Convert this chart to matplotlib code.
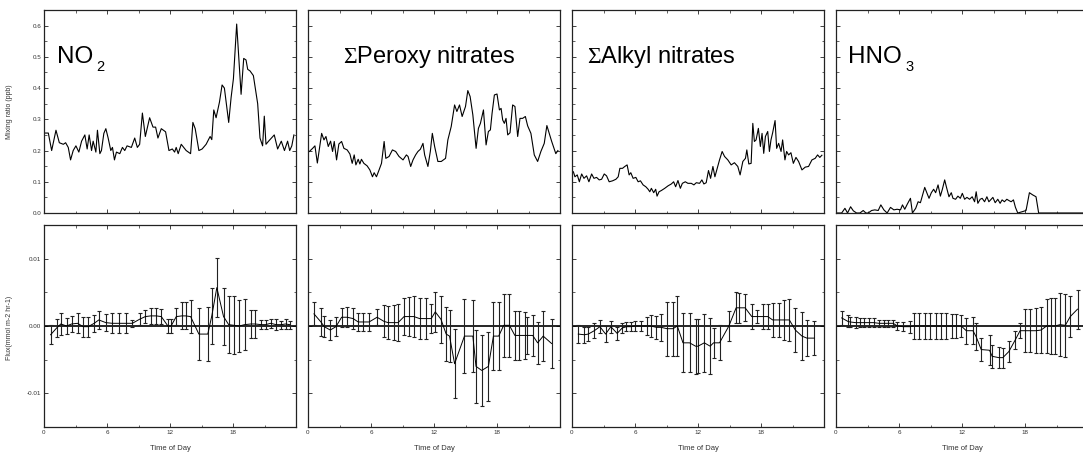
import numpy as np
import matplotlib.pyplot as plt
from matplotlib.ticker import MultipleLocator, FixedLocator

plt.rcParams['font.family'] = ['Liberation Sans', 'DejaVu Sans']
plt.rcParams['mathtext.fontset'] = 'custom'
plt.rcParams['mathtext.rm'] = 'Liberation Serif'

# ─────────────────────────────────────────────
# 1. DATOS: razón de mezcla (ppb) vs hora
# ─────────────────────────────────────────────
no2_t = [0.09, 0.41, 0.73, 1.14, 1.46, 1.84, 2.06, 2.31, 2.53, 2.78, 3.04, 3.32, 3.58, 3.89,
         4.11, 4.30, 4.53, 4.68, 4.94, 5.09, 5.32, 5.47, 5.70, 5.89, 6.11, 6.36, 6.52, 6.71,
         6.90, 7.22, 7.47, 7.69, 7.91, 8.32, 8.64, 8.89, 9.11, 9.37, 9.65, 10.06, 10.38,
         10.63, 10.85, 11.17, 11.58, 11.90, 12.22, 12.44, 12.59, 12.78, 13.07, 13.54, 13.96,
         14.18, 14.40, 14.75, 15.06, 15.44, 15.82, 15.98, 16.17, 16.39, 16.71, 16.96, 17.18,
         17.59, 17.82, 18.04, 18.35, 18.77, 19.02, 19.24, 19.40, 19.62, 19.94, 20.35, 20.57,
         20.82, 20.98, 21.14, 21.39, 21.93, 22.25, 22.6, 22.9, 23.2, 23.4, 23.6, 23.8]
no2_v = [0.256, 0.256, 0.20, 0.265, 0.225, 0.22, 0.225, 0.21, 0.17, 0.20, 0.215, 0.195, 0.23,
         0.25, 0.205, 0.25, 0.20, 0.23, 0.195, 0.265, 0.19, 0.20, 0.255, 0.27, 0.24, 0.20,
         0.21, 0.17, 0.195, 0.19, 0.21, 0.20, 0.215, 0.21, 0.24, 0.21, 0.22, 0.32, 0.245,
         0.305, 0.275, 0.275, 0.24, 0.27, 0.26, 0.20, 0.205, 0.195, 0.21, 0.19, 0.22, 0.20,
         0.19, 0.29, 0.27, 0.20, 0.205, 0.22, 0.245, 0.235, 0.33, 0.305, 0.355, 0.41, 0.40,
         0.29, 0.37, 0.43, 0.605, 0.38, 0.495, 0.49, 0.46, 0.455, 0.44, 0.35, 0.24, 0.215,
         0.31, 0.22, 0.23, 0.25, 0.205, 0.23, 0.20, 0.23, 0.20, 0.215, 0.25]

pan_t = [0.13, 0.44, 0.66, 0.89, 1.30, 1.52, 1.71, 1.93, 2.15, 2.34, 2.50, 2.72, 2.94, 3.20,
         3.42, 3.73, 3.99, 4.21, 4.40, 4.56, 4.78, 4.94, 5.09, 5.32, 5.63, 5.89, 6.14, 6.30,
         6.52, 6.77, 7.00, 7.25, 7.41, 7.72, 8.04, 8.35, 8.67, 9.05, 9.37, 9.53, 9.78, 10.0,
         10.25, 10.47, 10.70, 10.95, 11.11, 11.42, 11.65, 11.84, 12.06, 12.37, 12.69, 13.10,
         13.32, 13.64, 13.96, 14.18, 14.43, 14.68, 15.0, 15.22, 15.44, 15.70, 16.01, 16.23,
         16.42, 16.71, 16.96, 17.18, 17.37, 17.53, 17.75, 18.0, 18.23, 18.39, 18.54, 18.70,
         18.86, 19.02, 19.24, 19.49, 19.71, 19.97, 20.19, 20.44, 20.70, 20.92, 21.23, 21.55,
         21.87, 22.18, 22.5, 22.75, 23.2, 23.6, 23.8]
pan_v = [0.197, 0.207, 0.215, 0.16, 0.255, 0.234, 0.245, 0.213, 0.23, 0.197, 0.229, 0.17,
         0.221, 0.229, 0.207, 0.202, 0.189, 0.159, 0.186, 0.154, 0.172, 0.157, 0.172, 0.159,
         0.151, 0.138, 0.116, 0.129, 0.116, 0.138, 0.159, 0.229, 0.175, 0.181, 0.202, 0.197,
         0.181, 0.17, 0.186, 0.181, 0.149, 0.17, 0.186, 0.197, 0.204, 0.223, 0.186, 0.149,
         0.197, 0.255, 0.213, 0.165, 0.165, 0.175, 0.234, 0.277, 0.346, 0.325, 0.346, 0.309,
         0.341, 0.392, 0.373, 0.314, 0.207, 0.271, 0.287, 0.33, 0.218, 0.261, 0.266, 0.319,
         0.378, 0.381, 0.33, 0.335, 0.298, 0.287, 0.303, 0.25, 0.257, 0.346, 0.341, 0.245,
         0.303, 0.303, 0.309, 0.279, 0.255, 0.186, 0.165, 0.197, 0.223, 0.28, 0.23, 0.19, 0.20]

ano_t = [0.13, 0.28, 0.5, 0.7, 0.92, 1.14, 1.39, 1.61, 1.87, 2.09, 2.34, 2.59, 2.82, 3.07,
         3.29, 3.54, 3.86, 4.18, 4.40, 4.56, 4.81, 5.03, 5.25, 5.44, 5.60, 5.82, 6.08, 6.30,
         6.52, 6.77, 7.03, 7.25, 7.41, 7.56, 7.78, 7.97, 8.10, 8.29, 8.51, 8.83, 9.15, 9.46,
         9.68, 9.87, 10.09, 10.32, 10.51, 10.79, 11.04, 11.36, 11.61, 11.84, 12.15, 12.37,
         12.56, 12.78, 13.0, 13.2, 13.42, 13.61, 13.83, 14.05, 14.30, 14.53, 14.84, 15.16,
         15.47, 15.79, 16.01, 16.27, 16.52, 16.65, 16.84, 17.06, 17.22, 17.37, 17.53, 17.75,
         17.94, 18.10, 18.26, 18.42, 18.64, 18.80, 18.95, 19.11, 19.34, 19.49, 19.68, 19.91,
         20.06, 20.28, 20.44, 20.63, 20.85, 21.08, 21.33, 21.58, 21.90, 22.22, 22.53, 22.85,
         23.16, 23.39, 23.6, 23.8]
ano_v = [0.132, 0.116, 0.122, 0.10, 0.125, 0.111, 0.119, 0.10, 0.125, 0.111, 0.114, 0.106,
         0.108, 0.125, 0.119, 0.10, 0.103, 0.108, 0.116, 0.143, 0.143, 0.149, 0.154, 0.122,
         0.129, 0.111, 0.114, 0.10, 0.103, 0.09, 0.084, 0.076, 0.068, 0.079, 0.065, 0.076,
         0.054, 0.068, 0.072, 0.079, 0.087, 0.093, 0.10, 0.084, 0.104, 0.079, 0.095, 0.10,
         0.095, 0.095, 0.09, 0.097, 0.095, 0.106, 0.093, 0.097, 0.136, 0.111, 0.149, 0.116,
         0.143, 0.17, 0.197, 0.181, 0.17, 0.154, 0.161, 0.149, 0.122, 0.165, 0.175, 0.202,
         0.157, 0.159, 0.287, 0.229, 0.234, 0.271, 0.213, 0.255, 0.191, 0.245, 0.261, 0.197,
         0.234, 0.257, 0.296, 0.207, 0.223, 0.197, 0.234, 0.17, 0.197, 0.186, 0.193, 0.159,
         0.178, 0.165, 0.138, 0.147, 0.149, 0.17, 0.175, 0.186, 0.178, 0.185]

hno3_t = [0.06, 0.54, 0.85, 1.1, 1.39, 1.65, 1.96, 2.28, 2.59, 2.85, 3.07, 3.39, 3.70, 4.02,
          4.27, 4.56, 4.87, 5.19, 5.51, 5.82, 6.14, 6.33, 6.55, 6.80, 7.09, 7.28, 7.59, 7.82,
          8.04, 8.45, 8.67, 8.86, 9.08, 9.30, 9.49, 9.72, 9.94, 10.13, 10.35, 10.51, 10.76,
          10.98, 11.14, 11.39, 11.61, 11.84, 12.03, 12.25, 12.47, 12.72, 12.97, 13.20, 13.35,
          13.51, 13.73, 13.92, 14.15, 14.37, 14.56, 14.78, 14.94, 15.16, 15.41, 15.63, 15.82,
          16.04, 16.27, 16.46, 16.68, 16.90, 17.09, 17.31, 17.72, 18.10, 18.42, 18.73, 19.05,
          19.30, 20.5, 21.5, 22.5, 23.8]
hno3_v = [0.0, 0.0, 0.015, 0.0, 0.02, 0.007, 0.0, 0.0, 0.008, 0.0, 0.0, 0.008, 0.01, 0.008,
          0.026, 0.01, 0.0, 0.018, 0.01, 0.012, 0.01, 0.026, 0.012, 0.029, 0.047, 0.0, 0.015,
          0.036, 0.033, 0.082, 0.063, 0.047, 0.065, 0.076, 0.065, 0.09, 0.054, 0.076, 0.106,
          0.084, 0.052, 0.065, 0.047, 0.044, 0.054, 0.047, 0.063, 0.044, 0.05, 0.044, 0.052,
          0.036, 0.068, 0.031, 0.044, 0.047, 0.036, 0.052, 0.036, 0.044, 0.05, 0.033, 0.044,
          0.031, 0.042, 0.036, 0.044, 0.04, 0.036, 0.042, 0.018, 0.0, 0.004, 0.008, 0.065,
          0.058, 0.052, 0.0, 0.0, 0.0, 0.0, 0.0]

# ─────────────────────────────────────────────
# 2. DATOS: flujo (mmol m-2 hr-1) con barras de error
# ─────────────────────────────────────────────
no2_ft = [0.63, 1.2, 1.6, 2.15, 2.63, 3.2, 3.73, 4.2, 4.78, 5.22, 5.89, 6.5, 7.15, 7.78, 8.42,
          9.1, 9.65, 10.16, 10.7, 11.17, 11.8, 12.1, 12.6, 13.13, 13.48, 13.96, 14.75, 15.6,
          15.98, 16.46, 17.1, 17.59, 18.1, 18.6, 19.1, 19.7, 20.1, 20.7, 21.1, 21.6, 22.1,
          22.6, 23.0, 23.4]
no2_f = [-0.0013, -0.0003, 0.0003, 0.0, 0.0003, 0.0004, -0.0001, -0.0001, 0.0004, 0.0009,
         0.0005, 0.0004, 0.0004, 0.0004, 0.0004, 0.0010, 0.0014, 0.0015, 0.0015, 0.0014, 0.0,
         0.0, 0.0014, 0.0015, 0.0015, 0.0014, -0.0012, -0.0012, 0.0015, 0.0057, 0.0014,
         0.0002, 0.0001, 0.0, 0.0002, 0.0003, 0.0003, 0.0002, 0.0002, 0.0004, 0.0002, 0.0002,
         0.0003, 0.0002]
no2_fe = [0.0014, 0.0013, 0.0016, 0.0012, 0.0012, 0.0015, 0.0015, 0.0015, 0.0013, 0.0013,
          0.0013, 0.0015, 0.0015, 0.0015, 0.0005, 0.0009, 0.0010, 0.0012, 0.0012, 0.0011,
          0.0011, 0.0011, 0.0012, 0.0020, 0.0020, 0.0024, 0.0038, 0.0040, 0.0041, 0.0044,
          0.0042, 0.0042, 0.0043, 0.0039, 0.0038, 0.0021, 0.0021, 0.0007, 0.0007, 0.0007,
          0.0008, 0.0006, 0.0007, 0.0006]

pan_ft = [0.57, 1.23, 1.55, 2.12, 2.66, 3.2, 3.73, 4.3, 4.78, 5.25, 5.82, 6.58, 7.22, 7.63,
          8.16, 8.58, 9.15, 9.62, 10.09, 10.63, 11.2, 11.74, 12.12, 12.66, 13.16, 13.48, 13.96,
          14.9, 15.7, 16.0, 16.55, 17.18, 17.66, 18.16, 18.64, 19.18, 19.7, 20.13, 20.7, 20.82,
          21.4, 21.87, 22.4, 23.2]
pan_f = [0.0018, 0.0006, -0.0001, -0.0006, -0.0001, 0.0013, 0.0013, 0.0011, 0.0006, 0.0006,
         0.0006, 0.0013, 0.0007, 0.0005, 0.0005, 0.0005, 0.0014, 0.0014, 0.0014, 0.0011,
         0.0011, 0.0011, 0.0021, 0.0010, -0.0012, -0.0015, -0.0056, -0.0015, -0.0015, -0.0060,
         -0.0066, -0.0060, -0.0015, -0.0015, 0.0001, 0.0001, -0.0014, -0.0014, -0.0014,
         -0.0014, -0.0014, -0.0025, -0.0015, -0.0026]
pan_fe = [0.0017, 0.0021, 0.0016, 0.0015, 0.0014, 0.0014, 0.0015, 0.0015, 0.0014, 0.0013,
          0.0013, 0.0012, 0.0024, 0.0025, 0.0026, 0.0027, 0.0028, 0.0029, 0.0030, 0.0030,
          0.0030, 0.0021, 0.0030, 0.0035, 0.0040, 0.0039, 0.0051, 0.0055, 0.0054, 0.0054,
          0.0053, 0.0051, 0.0050, 0.0050, 0.0047, 0.0047, 0.0036, 0.0036, 0.0035, 0.0028,
          0.0030, 0.0031, 0.0037, 0.0036]

ano_ft = [0.6, 1.17, 1.55, 2.12, 2.66, 3.2, 3.7, 4.3, 4.78, 5.19, 5.6, 5.98, 6.55, 7.18, 7.5,
          8.04, 8.5, 9.05, 9.62, 10.03, 10.57, 11.2, 11.77, 12.0, 12.6, 13.16, 13.48, 14.05,
          14.94, 15.63, 15.95, 16.49, 17.12, 17.59, 18.16, 18.64, 19.11, 19.68, 20.22, 20.7,
          21.27, 21.9, 22.37, 23.07]
ano_f = [-0.0012, -0.0013, -0.0012, -0.0007, -0.0001, -0.0012, -0.0001, -0.0011, -0.0003,
         -0.0001, -0.0001, 0.0000, 0.0, 0.0, 0.0, -0.0002, -0.0002, -0.0004, -0.0004, 0.0,
         -0.0025, -0.0025, -0.0030, -0.0030, -0.0025, -0.0030, -0.0025, -0.0025, 0.0, 0.0027,
         0.0027, 0.0027, 0.0014, 0.0014, 0.0014, 0.0014, 0.0009, 0.0009, 0.0009, 0.0009,
         -0.0006, -0.0015, -0.0018, -0.0018]
ano_fe = [0.0013, 0.0012, 0.0011, 0.0011, 0.0010, 0.0012, 0.0009, 0.0010, 0.0007, 0.0007,
          0.0007, 0.0007, 0.0008, 0.0013, 0.0016, 0.0017, 0.0020, 0.0040, 0.0040, 0.0044,
          0.0044, 0.0044, 0.0041, 0.0040, 0.0043, 0.0042, 0.0022, 0.0026, 0.0022, 0.0023,
          0.0022, 0.0020, 0.0018, 0.0010, 0.0019, 0.0019, 0.0025, 0.0025, 0.0030, 0.0031,
          0.0033, 0.0036, 0.0027, 0.0025]

hno3_ft = [0.54, 1.11, 1.33, 1.87, 2.28, 2.69, 3.16, 3.61, 4.08, 4.56, 4.97, 5.44, 5.85, 6.39,
           7.03, 7.4, 7.91, 8.45, 8.99, 9.49, 10.03, 10.5, 11.08, 11.46, 11.93, 12.41, 13.04,
           13.35, 13.83, 14.62, 14.87, 15.51, 15.89, 16.46, 17.06, 17.53, 18.04, 18.51, 19.05,
           19.53, 20.06, 20.47, 20.85, 21.33, 21.84, 22.31, 23.0]
hno3_f = [0.0012, 0.0007, 0.0006, 0.0005, 0.0005, 0.0005, 0.0005, 0.0005, 0.0004, 0.0004,
          0.0004, 0.0004, 0.0000, -0.0001, -0.0001, 0.0, 0.0, 0.0, 0.0, 0.0, 0.0, 0.0, 0.0,
          0.0, 0.0, -0.0007, -0.0007, -0.0016, -0.0035, -0.0036, -0.0045, -0.0047, -0.0047,
          -0.0038, -0.0021, -0.0007, -0.0007, -0.0007, -0.0007, -0.0006, 0.0, 0.0, 0.0,
          0.0002, 0.0001, 0.0014, 0.0025]
hno3_fe = [0.0011, 0.0009, 0.0008, 0.0008, 0.0007, 0.0007, 0.0007, 0.0007, 0.0005, 0.0005,
           0.0005, 0.0005, 0.0006, 0.0007, 0.0009, 0.0019, 0.0019, 0.0020, 0.0020, 0.0020,
           0.0020, 0.0020, 0.0018, 0.0018, 0.0016, 0.0019, 0.0020, 0.0020, 0.0017, 0.0022,
           0.0017, 0.0016, 0.0015, 0.0015, 0.0013, 0.0011, 0.0032, 0.0032, 0.0033, 0.0034,
           0.0040, 0.0041, 0.0041, 0.0047, 0.0047, 0.0030, 0.0029]

# título, subíndice, tamaño
titulos = ['NO', r'$\mathrm{\Sigma}$Peroxy nitrates', r'$\mathrm{\Sigma}$Alkyl nitrates', 'HNO']
subind = ['2', '', '', '3']
tamanos = [17.5, 17, 17, 17.5]
conc = [(no2_t, no2_v), (pan_t, pan_v), (ano_t, ano_v), (hno3_t, hno3_v)]
flux = [(no2_ft, no2_f, no2_fe), (pan_ft, pan_f, pan_fe),
        (ano_ft, ano_f, ano_fe), (hno3_ft, hno3_f, hno3_fe)]

# ─────────────────────────────────────────────
# 3. FIGURA
# ─────────────────────────────────────────────
W, H = 1083, 455
fig = plt.figure(figsize=(W / 100, H / 100), dpi=100)

lefts = [44, 308, 572, 836]
ancho = 252
desp_titulo = [13, 35, 15, 12]
TXT = '#333333'


def estilo(ax):
    ax.tick_params(which='both', direction='in', top=True, right=True,
                   labelsize=4.5, labelcolor=TXT, color='#222222', pad=2)
    ax.tick_params(which='major', length=3, width=0.6)
    ax.tick_params(which='minor', length=1.8, width=0.5)
    for s in ax.spines.values():
        s.set_linewidth(0.9)
        s.set_color('#222222')
    ax.set_xlim(0, 24)
    ax.xaxis.set_major_locator(FixedLocator([0, 6, 12, 18]))
    ax.xaxis.set_minor_locator(MultipleLocator(3))


for i in range(4):
    x0 = lefts[i] / W
    # fila superior
    ax = fig.add_axes([x0, (H - 213) / H, ancho / W, 203 / H])
    estilo(ax)
    t, v = conc[i]
    ax.plot(t, v, color='black', lw=0.8)
    ax.set_ylim(0, 0.65)
    ax.yaxis.set_major_locator(MultipleLocator(0.1))
    ax.yaxis.set_minor_locator(MultipleLocator(0.05))
    ax.yaxis.set_major_formatter(lambda y, p: f'{y:.1f}')
    ax.tick_params(labelbottom=False)
    if i > 0:
        ax.tick_params(labelleft=False)
    txt = ax.text(desp_titulo[i] / ancho, (213 - 63) / 203, titulos[i],
                  transform=ax.transAxes, fontsize=tamanos[i], va='baseline', ha='left')
    if subind[i]:
        ax.annotate(subind[i], xy=(1, 0), xycoords=txt, xytext=(2.5, -2.2),
                    textcoords='offset points', fontsize=10.5, va='baseline', ha='left')

    # fila inferior
    ax = fig.add_axes([x0, (H - 427) / H, ancho / W, 202 / H])
    estilo(ax)
    t, f, e = flux[i]
    ax.axhline(0, color='black', lw=1.2)
    ax.errorbar(t, f, yerr=e, color='black', lw=0.7, elinewidth=0.8, ecolor='#222222',
                capsize=1.2, capthick=0.8)
    ax.set_ylim(-0.015, 0.015)
    ax.yaxis.set_major_locator(FixedLocator([-0.01, 0.0, 0.01]))
    ax.yaxis.set_minor_locator(MultipleLocator(0.005))
    ax.yaxis.set_major_formatter(lambda y, p: f'{y:.2f}')
    if i > 0:
        ax.tick_params(labelleft=False)
    fig.text((lefts[i] + 126) / W, (H - 449) / H, 'Time of Day', fontsize=5.5,
             color=TXT, ha='center', va='center')

fig.text(10 / W, (H - 112) / H, 'Mixing ratio (ppb)', rotation=90, fontsize=5,
         color=TXT, ha='center', va='center')
fig.text(10 / W, (H - 328) / H, 'Flux(mmol m-2 hr-1)', rotation=90, fontsize=5,
         color=TXT, ha='center', va='center')

plt.savefig('out.png', dpi=100)
plt.close()
